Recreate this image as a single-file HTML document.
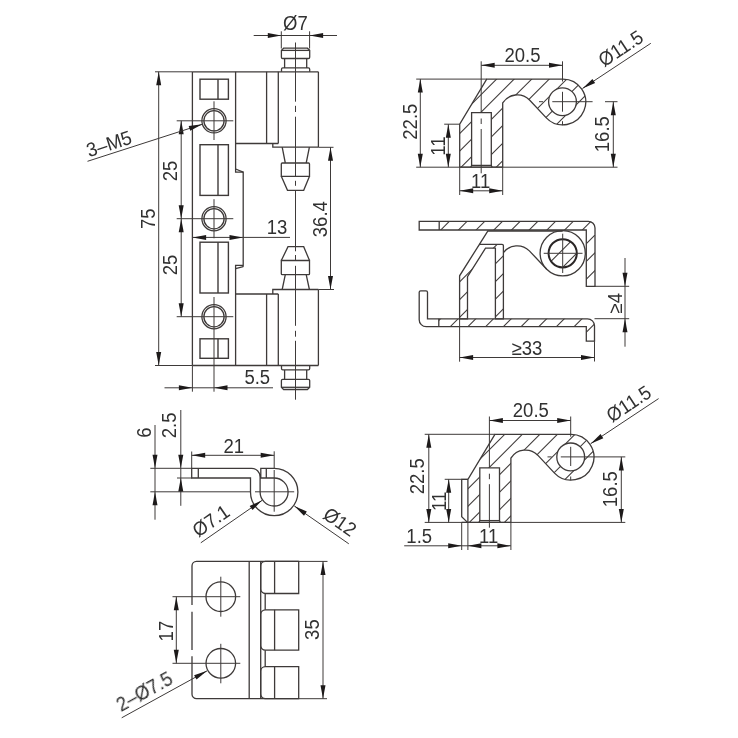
<!DOCTYPE html>
<html><head><meta charset="utf-8"><title>Hinge drawing</title>
<style>
html,body{margin:0;padding:0;background:#fff;}
body{width:738px;height:738px;overflow:hidden;}
svg{display:block;}
.o{stroke:#3e3a39;stroke-width:1.3;fill:none;}
.o2{stroke:#3e3a39;stroke-width:1.4;fill:none;}
.o3{stroke:#2a2626;stroke-width:2;fill:none;}
.t{stroke:#3e3a39;stroke-width:0.9;fill:none;}
.d{stroke:#3e3a39;stroke-width:1.0;fill:none;}
.c{stroke:#3e3a39;stroke-width:1.0;fill:none;}
.h{stroke:#3e3a39;stroke-width:1.05;fill:none;}
.a{fill:#1d1a1a;stroke:none;}
text{font-family:"Liberation Sans",sans-serif;fill:#35302f;}
</style></head><body>
<svg width="738" height="738" viewBox="0 0 738 738">
<rect x="0" y="0" width="738" height="738" fill="#fff"/>
<line class="d" x1="155" y1="71.8" x2="192.4" y2="71.8"/>
<line class="d" x1="155" y1="365.5" x2="192.4" y2="365.5"/>
<line class="o" x1="192.4" y1="71.8" x2="318.4" y2="71.8"/>
<line class="o" x1="192.4" y1="365.5" x2="318.4" y2="365.5"/>
<line class="o" x1="192.4" y1="71.8" x2="192.4" y2="365.5"/>
<path class="o" d="M235.6,71.8V172.2H243.2V266.7M243.2,265.4H235.6V365.5" />
<path class="o" d="M235.6,169L243.2,172.2" />
<path class="o" d="M243.2,266.7L235.6,268.6" />
<path class="o" d="M235.6,143.5H278.3" />
<line class="o" x1="266.6" y1="71.8" x2="266.6" y2="143.5"/>
<line class="o" x1="278.3" y1="71.8" x2="278.3" y2="143.5"/>
<path class="o" d="M272.8,143.5V147.2H318.4" />
<line class="o" x1="318.4" y1="71.8" x2="318.4" y2="147.2"/>
<path class="o" d="M235.6,294H278.3" />
<line class="o" x1="266.6" y1="294" x2="266.6" y2="365.5"/>
<line class="o" x1="278.3" y1="294" x2="278.3" y2="365.5"/>
<path class="o" d="M272.8,294V289.5H318.4" />
<line class="o" x1="318.4" y1="289.5" x2="318.4" y2="365.5"/>
<path class="o" d="M283.6,48.2H307.4L309.7,50.4V57.2Q309.7,58.5 308.4,58.5H282.7Q281.4,58.5 281.4,57.2V50.4Z" />
<line class="o" x1="281.4" y1="50.4" x2="309.7" y2="50.4"/>
<path class="o" d="M284.6,58.5V67.9M306.7,58.5V67.9" />
<path class="o" d="M281.5,71.7V69.2Q281.5,67.9 282.8,67.9H308.4Q309.7,67.9 309.7,69.2V71.7" />
<path class="o" d="M282.2,147.2L285.3,163M309.4,147.2L306.2,163" />
<path class="o" d="M282.3,163H308.5Q309.5,163 309.5,164V176.3H281.3V164Q281.3,163 282.3,163Z" />
<path class="o" d="M281.3,176.3L287.5,190.3H303.7L309.5,176.3" />
<path class="o" d="M281.3,260.5L288,246.7H303.7L309.5,260.5" />
<path class="o" d="M281.3,260.5H309.5V273.7Q309.5,274.7 308.5,274.7H282.3Q281.3,274.7 281.3,273.7Z" />
<path class="o" d="M285.3,274.7L282.2,289.5M306.2,274.7L309.4,289.5" />
<path class="o" d="M281.5,365.5V368.6Q281.5,369.9 282.8,369.9H308.4Q309.7,369.9 309.7,368.6V365.5" />
<path class="o" d="M284.6,369.9V379.3M306.7,369.9V379.3" />
<path class="o" d="M282.7,379.3H308.4Q309.7,379.3 309.7,380.6V387.3L307.4,389.5H283.6L281.4,387.3V380.6Q281.4,379.3 282.7,379.3Z" />
<line class="o" x1="281.4" y1="387.3" x2="309.7" y2="387.3"/>
<rect class="o2" x="200" y="79.2" width="28.4" height="20"/>
<line class="o2" x1="218" y1="79.2" x2="218" y2="99.2"/>
<rect class="o2" x="200" y="144.7" width="28.4" height="50.7"/>
<line class="o2" x1="218" y1="144.7" x2="218" y2="195.4"/>
<rect class="o2" x="200" y="242.2" width="28.4" height="50.8"/>
<line class="o2" x1="218" y1="242.2" x2="218" y2="293"/>
<rect class="o2" x="200" y="338.8" width="28.4" height="19.5"/>
<line class="o2" x1="218" y1="338.8" x2="218" y2="358.3"/>
<circle class="o" cx="214" cy="120.8" r="12.1"/>
<circle class="o" cx="214" cy="120.8" r="10.1"/>
<line class="c" x1="176.7" y1="120.8" x2="233.3" y2="120.8"/>
<circle class="o" cx="214" cy="218.7" r="12.1"/>
<circle class="o" cx="214" cy="218.7" r="10.1"/>
<line class="c" x1="176.7" y1="218.7" x2="233.3" y2="218.7"/>
<circle class="o" cx="214" cy="316.7" r="12.1"/>
<circle class="o" cx="214" cy="316.7" r="10.1"/>
<line class="c" x1="176.7" y1="316.7" x2="233.3" y2="316.7"/>
<line class="c" x1="214" y1="101.3" x2="214" y2="140"/>
<line class="c" x1="214" y1="199.2" x2="214" y2="238.3"/>
<line class="c" x1="214" y1="297" x2="214" y2="391.7"/>
<line class="c" x1="295.5" y1="42.5" x2="295.5" y2="101.7"/>
<line class="c" x1="295.5" y1="105.8" x2="295.5" y2="112"/>
<line class="c" x1="295.5" y1="116.7" x2="295.5" y2="176.5"/>
<line class="c" x1="295.5" y1="180.8" x2="295.5" y2="185.8"/>
<line class="c" x1="295.5" y1="190.3" x2="295.5" y2="251.3"/>
<line class="c" x1="295.5" y1="255" x2="295.5" y2="260.8"/>
<line class="c" x1="295.5" y1="265.8" x2="295.5" y2="325.8"/>
<line class="c" x1="295.5" y1="330.8" x2="295.5" y2="336.7"/>
<line class="c" x1="295.5" y1="340.8" x2="295.5" y2="399.7"/>
<line class="d" x1="253.7" y1="35.5" x2="337" y2="35.5"/>
<line class="d" x1="281.3" y1="31.3" x2="281.3" y2="48.5"/>
<line class="d" x1="309.6" y1="31.3" x2="309.6" y2="48.5"/>
<polygon class="a" points="281.3,35.5 267.8,38 267.8,33"/>
<polygon class="a" points="309.6,35.5 323.1,33 323.1,38"/>
<line class="d" x1="158.7" y1="71.8" x2="158.7" y2="365.5"/>
<polygon class="a" points="158.7,71.8 161.2,85.3 156.2,85.3"/>
<polygon class="a" points="158.7,365.5 156.2,352 161.2,352"/>
<line class="d" x1="181.2" y1="120.8" x2="181.2" y2="316.7"/>
<polygon class="a" points="181.2,120.8 183.7,134.3 178.7,134.3"/>
<polygon class="a" points="181.2,218.7 178.7,205.2 183.7,205.2"/>
<polygon class="a" points="181.2,218.7 183.7,232.2 178.7,232.2"/>
<polygon class="a" points="181.2,316.7 178.7,303.2 183.7,303.2"/>
<line class="d" x1="193" y1="237.4" x2="290" y2="237.4"/>
<polygon class="a" points="192.6,237.4 206.1,234.9 206.1,239.9"/>
<polygon class="a" points="243,237.4 229.5,239.9 229.5,234.9"/>
<line class="d" x1="318.4" y1="147.3" x2="333.5" y2="147.3"/>
<line class="d" x1="318.4" y1="289.5" x2="334" y2="289.5"/>
<line class="d" x1="330.5" y1="147.3" x2="330.5" y2="289.5"/>
<polygon class="a" points="330.5,147.3 333,160.8 328,160.8"/>
<polygon class="a" points="330.5,289.5 328,276 333,276"/>
<line class="d" x1="164.5" y1="387.8" x2="273" y2="387.8"/>
<line class="d" x1="192.4" y1="365.5" x2="192.4" y2="391.7"/>
<polygon class="a" points="192.4,387.8 178.9,390.3 178.9,385.3"/>
<polygon class="a" points="214,387.8 227.5,385.3 227.5,390.3"/>
<line class="d" x1="87.5" y1="161.3" x2="202.3" y2="124.3"/>
<polygon class="a" points="202.3,124.3 190.22,130.82 188.68,126.06"/>
<clipPath id="cp2"><path clip-rule="evenodd" d="M459.7,167.2V124.2L486.7,79.1H562.5A22.9,22.9 0 1 1 546.31,117.89L529.53,99.97A17.3,17.3 0 0 0 502.7,102.92V167.2Z M470.8,167.2L471.6,165.4V112.6H491.3V165.4L492.1,167.2Z M548.6,101.7a13.9,13.9 0 1 0 27.8,0a13.9,13.9 0 1 0 -27.8,0Z"/></clipPath>
<g clip-path="url(#cp2)">
<line class="h" x1="515.7" y1="60" x2="395.7" y2="180"/>
<line class="h" x1="533.25" y1="60" x2="413.25" y2="180"/>
<line class="h" x1="550.8" y1="60" x2="430.8" y2="180"/>
<line class="h" x1="568.35" y1="60" x2="448.35" y2="180"/>
<line class="h" x1="585.9" y1="60" x2="465.9" y2="180"/>
<line class="h" x1="603.45" y1="60" x2="483.45" y2="180"/>
<line class="h" x1="621" y1="60" x2="501" y2="180"/>
<line class="h" x1="638.55" y1="60" x2="518.55" y2="180"/>
</g>
<path class="o" d="M459.7,167.2V124.2L486.7,79.1H562.5A22.9,22.9 0 1 1 546.31,117.89L529.53,99.97A17.3,17.3 0 0 0 502.7,102.92V167.2" />
<path class="o" d="M470.8,167.2L471.6,165.4V112.6H491.3V165.4L492.1,167.2" />
<line class="o" x1="471.6" y1="165.4" x2="491.3" y2="165.4"/>
<circle class="o" cx="562.5" cy="101.7" r="13.9"/>
<line class="d" x1="416.2" y1="167.2" x2="617.5" y2="167.2"/>
<line class="o" x1="459.7" y1="167.2" x2="502.7" y2="167.2"/>
<line class="d" x1="416.2" y1="79.1" x2="486.7" y2="79.1"/>
<line class="c" x1="539" y1="101.7" x2="543" y2="101.7"/>
<line class="c" x1="552.3" y1="101.7" x2="592.6" y2="101.7"/>
<line class="c" x1="562.5" y1="91.8" x2="562.5" y2="111.7"/>
<line class="c" x1="562.5" y1="121.2" x2="562.5" y2="125.2"/>
<line class="c" x1="481.2" y1="118.5" x2="481.2" y2="124"/>
<line class="c" x1="481.2" y1="129" x2="481.2" y2="173.3"/>
<line class="d" x1="481.2" y1="61.3" x2="481.2" y2="112.6"/>
<line class="d" x1="562.5" y1="61.3" x2="562.5" y2="81.5"/>
<line class="d" x1="481.2" y1="65.3" x2="562.5" y2="65.3"/>
<polygon class="a" points="481.2,65.3 494.7,62.8 494.7,67.8"/>
<polygon class="a" points="562.5,65.3 549,67.8 549,62.8"/>
<line class="d" x1="420.3" y1="79.1" x2="420.3" y2="167.2"/>
<polygon class="a" points="420.3,79.1 422.8,92.6 417.8,92.6"/>
<polygon class="a" points="420.3,167.2 417.8,153.7 422.8,153.7"/>
<line class="d" x1="444.2" y1="124.2" x2="459.7" y2="124.2"/>
<line class="d" x1="448.3" y1="124.2" x2="448.3" y2="167.2"/>
<polygon class="a" points="448.3,124.2 450.8,137.7 445.8,137.7"/>
<polygon class="a" points="448.3,167.2 445.8,153.7 450.8,153.7"/>
<line class="d" x1="459.7" y1="167.2" x2="459.7" y2="195"/>
<line class="d" x1="502.7" y1="167.2" x2="502.7" y2="195"/>
<line class="d" x1="459.7" y1="190.8" x2="502.7" y2="190.8"/>
<polygon class="a" points="459.7,190.8 473.2,188.3 473.2,193.3"/>
<polygon class="a" points="502.7,190.8 489.2,193.3 489.2,188.3"/>
<line class="d" x1="605" y1="101.7" x2="617.5" y2="101.7"/>
<line class="d" x1="613.3" y1="101.7" x2="613.3" y2="167.2"/>
<polygon class="a" points="613.3,101.7 615.8,115.2 610.8,115.2"/>
<polygon class="a" points="613.3,167.2 610.8,153.7 615.8,153.7"/>
<line class="d" x1="650.8" y1="43.3" x2="582.52" y2="88.46"/>
<polygon class="a" points="582.52,88.46 592.4,78.93 595.16,83.1"/>
<clipPath id="cp3"><path d="M439.2,221.3H588.3A6.7,6.7 0 0 1 595,228V286.3H586.3V230H439.2Z M438.8,318.8H587.5A7,7 0 0 1 594.5,325.8V341.2H586.3V326.7H438.8Z M479.4,244.3H502A1.4,1.4 0 0 1 503.4,245.7V318.8H495.4V248.2H485.5L467.5,276.7V318.8H459.6V275.8Z M548.6,253.3a14.1,14.1 0 1 0 28.2,0a14.1,14.1 0 1 0 -28.2,0Z"/></clipPath>
<g clip-path="url(#cp3)">
<line class="h" x1="460.7" y1="210" x2="320.7" y2="350"/>
<line class="h" x1="478.4" y1="210" x2="338.4" y2="350"/>
<line class="h" x1="496.1" y1="210" x2="356.1" y2="350"/>
<line class="h" x1="513.8" y1="210" x2="373.8" y2="350"/>
<line class="h" x1="531.5" y1="210" x2="391.5" y2="350"/>
<line class="h" x1="549.2" y1="210" x2="409.2" y2="350"/>
<line class="h" x1="566.9" y1="210" x2="426.9" y2="350"/>
<line class="h" x1="584.6" y1="210" x2="444.6" y2="350"/>
<line class="h" x1="602.3" y1="210" x2="462.3" y2="350"/>
<line class="h" x1="620" y1="210" x2="480" y2="350"/>
<line class="h" x1="637.7" y1="210" x2="497.7" y2="350"/>
<line class="h" x1="655.4" y1="210" x2="515.4" y2="350"/>
<line class="h" x1="673.1" y1="210" x2="533.1" y2="350"/>
<line class="h" x1="690.8" y1="210" x2="550.8" y2="350"/>
<line class="h" x1="708.5" y1="210" x2="568.5" y2="350"/>
<line class="h" x1="726.2" y1="210" x2="586.2" y2="350"/>
</g>
<path class="o" d="M419.2,221.3H588.3A6.7,6.7 0 0 1 595,228V286.3H586.3V230H419.2Z" />
<line class="o" x1="439.2" y1="221.3" x2="439.2" y2="230"/>
<path class="o" d="M420.7,290.8H426A1.5,1.5 0 0 1 427.5,292.3V318.8H587.5A7,7 0 0 1 594.5,325.8V341.2H586.3V326.7H426.2A7,7 0 0 1 419.2,319.7V292.3A1.5,1.5 0 0 1 420.7,290.8Z" />
<line class="o" x1="438.8" y1="318.8" x2="438.8" y2="326.7"/>
<path class="o" d="M479.4,244.3H502A1.4,1.4 0 0 1 503.4,245.7V318.8H495.4V248.2H485.5L467.5,276.7V318.8H459.6V275.8Z" />
<path class="o" d="M562.7,231H487.9L479.4,244.3" />
<circle class="o" cx="562.7" cy="253.3" r="22.6"/>
<circle class="o3" cx="562.7" cy="253.3" r="14.1"/>
<line class="c" x1="543.7" y1="253.3" x2="582.5" y2="253.3"/>
<line class="c" x1="562.7" y1="233.7" x2="562.7" y2="273"/>
<path class="o" d="M503.4,252.73A17.2,17.2 0 0 1 529.36,250.84L546.72,269.28" />
<line class="d" x1="594.5" y1="286.3" x2="629.2" y2="286.3"/>
<line class="d" x1="594.5" y1="318.7" x2="629.2" y2="318.7"/>
<line class="d" x1="625" y1="258" x2="625" y2="346.7"/>
<polygon class="a" points="625,286.3 622.5,272.8 627.5,272.8"/>
<polygon class="a" points="625,318.7 627.5,332.2 622.5,332.2"/>
<line class="d" x1="459.6" y1="318.8" x2="459.6" y2="361.7"/>
<line class="d" x1="594.5" y1="341.2" x2="594.5" y2="361.5"/>
<line class="d" x1="459.6" y1="357.5" x2="594.5" y2="357.5"/>
<polygon class="a" points="459.6,357.5 473.1,355 473.1,360"/>
<polygon class="a" points="594.5,357.5 581,360 581,355"/>
<clipPath id="cp4"><path clip-rule="evenodd" d="M467.9,522.4V479.4L494.9,434.3H570.7A22.9,22.9 0 1 1 554.51,473.09L537.73,455.17A17.3,17.3 0 0 0 510.9,458.12V522.4Z M479,522.4L479.8,520.6V467.8H499.5V520.6L500.3,522.4Z M556.8,456.9a13.9,13.9 0 1 0 27.8,0a13.9,13.9 0 1 0 -27.8,0Z"/></clipPath>
<g clip-path="url(#cp4)">
<line class="h" x1="523.9" y1="415.2" x2="403.9" y2="535.2"/>
<line class="h" x1="541.45" y1="415.2" x2="421.45" y2="535.2"/>
<line class="h" x1="559" y1="415.2" x2="439" y2="535.2"/>
<line class="h" x1="576.55" y1="415.2" x2="456.55" y2="535.2"/>
<line class="h" x1="594.1" y1="415.2" x2="474.1" y2="535.2"/>
<line class="h" x1="611.65" y1="415.2" x2="491.65" y2="535.2"/>
<line class="h" x1="629.2" y1="415.2" x2="509.2" y2="535.2"/>
<line class="h" x1="646.75" y1="415.2" x2="526.75" y2="535.2"/>
</g>
<path class="o" d="M467.9,522.4V479.4L494.9,434.3H570.7A22.9,22.9 0 1 1 554.51,473.09L537.73,455.17A17.3,17.3 0 0 0 510.9,458.12V522.4" />
<path class="o" d="M479,522.4L479.8,520.6V467.8H499.5V520.6L500.3,522.4" />
<line class="o" x1="479.8" y1="520.6" x2="499.5" y2="520.6"/>
<circle class="o" cx="570.7" cy="456.9" r="13.9"/>
<line class="d" x1="424.7" y1="522.4" x2="625.3" y2="522.4"/>
<line class="o" x1="461.7" y1="522.4" x2="510.9" y2="522.4"/>
<line class="d" x1="424.7" y1="434.3" x2="494.9" y2="434.3"/>
<path class="o" d="M467.9,479.3H461.7V516.7L467.5,522.4" />
<line class="c" x1="547.5" y1="456.9" x2="551.7" y2="456.9"/>
<line class="c" x1="560.8" y1="456.9" x2="625.3" y2="456.9"/>
<line class="c" x1="570.7" y1="446.8" x2="570.7" y2="466"/>
<line class="c" x1="570.7" y1="476.5" x2="570.7" y2="480.2"/>
<line class="c" x1="489.4" y1="473.7" x2="489.4" y2="479.2"/>
<line class="c" x1="489.4" y1="484.2" x2="489.4" y2="527.7"/>
<line class="d" x1="489.4" y1="416.5" x2="489.4" y2="467.8"/>
<line class="d" x1="570.7" y1="416.5" x2="570.7" y2="436.7"/>
<line class="d" x1="489.4" y1="420.5" x2="570.7" y2="420.5"/>
<polygon class="a" points="489.4,420.5 502.9,418 502.9,423"/>
<polygon class="a" points="570.7,420.5 557.2,423 557.2,418"/>
<line class="d" x1="428.8" y1="434.3" x2="428.8" y2="522.4"/>
<polygon class="a" points="428.8,434.3 431.3,447.8 426.3,447.8"/>
<polygon class="a" points="428.8,522.4 426.3,508.9 431.3,508.9"/>
<line class="d" x1="444.7" y1="479.3" x2="467.9" y2="479.3"/>
<line class="d" x1="448.7" y1="479.3" x2="448.7" y2="522.4"/>
<polygon class="a" points="448.7,479.3 451.2,492.8 446.2,492.8"/>
<polygon class="a" points="448.7,522.4 446.2,508.9 451.2,508.9"/>
<line class="d" x1="461.7" y1="522.4" x2="461.7" y2="550"/>
<line class="d" x1="467.9" y1="522.4" x2="467.9" y2="550"/>
<line class="d" x1="510.9" y1="522.4" x2="510.9" y2="550"/>
<line class="d" x1="404.2" y1="545.8" x2="510.9" y2="545.8"/>
<polygon class="a" points="461.7,545.8 448.2,548.3 448.2,543.3"/>
<polygon class="a" points="467.9,545.8 481.4,543.3 481.4,548.3"/>
<polygon class="a" points="510.9,545.8 497.4,548.3 497.4,543.3"/>
<line class="d" x1="621.3" y1="456.9" x2="621.3" y2="522.4"/>
<polygon class="a" points="621.3,456.9 623.8,470.4 618.8,470.4"/>
<polygon class="a" points="621.3,522.4 618.8,508.9 623.8,508.9"/>
<line class="d" x1="658.6" y1="398.6" x2="590.7" y2="443.63"/>
<polygon class="a" points="590.7,443.63 600.57,434.09 603.33,438.26"/>
<path class="o" d="M191.7,468.3H251.5A8.6,8.6 0 0 1 260.1,476.9V492.0A14.0,14.0 0 1 0 274.2,478.0H260.8V468.3H274.2A23.7,23.7 0 1 1 250.5,492.0V478.0H191.7Z" />
<line class="o" x1="198.3" y1="468.3" x2="198.3" y2="478"/>
<line class="o" x1="266.3" y1="468.3" x2="266.3" y2="478"/>
<line class="d" x1="150.3" y1="491.8" x2="250.5" y2="491.8"/>
<line class="c" x1="255" y1="491.8" x2="294.2" y2="491.8"/>
<line class="c" x1="274.2" y1="470" x2="274.2" y2="511.7"/>
<line class="d" x1="150.3" y1="468.3" x2="191.7" y2="468.3"/>
<line class="d" x1="155" y1="425" x2="155" y2="519.7"/>
<polygon class="a" points="155,468.3 152.5,454.8 157.5,454.8"/>
<polygon class="a" points="155,491.8 157.5,505.3 152.5,505.3"/>
<line class="d" x1="177" y1="478" x2="191.7" y2="478"/>
<line class="d" x1="180.8" y1="410" x2="180.8" y2="505.8"/>
<polygon class="a" points="180.8,468.3 178.3,454.8 183.3,454.8"/>
<polygon class="a" points="180.8,478 183.3,491.5 178.3,491.5"/>
<line class="d" x1="191.7" y1="451.5" x2="191.7" y2="468.3"/>
<line class="d" x1="274.2" y1="451.3" x2="274.2" y2="468.3"/>
<line class="d" x1="191.7" y1="455.3" x2="274.2" y2="455.3"/>
<polygon class="a" points="191.7,455.3 205.2,452.8 205.2,457.8"/>
<polygon class="a" points="274.2,455.3 260.7,457.8 260.7,452.8"/>
<line class="d" x1="200.8" y1="542.8" x2="262.19" y2="500.31"/>
<polygon class="a" points="262.19,500.31 252.52,510.05 249.67,505.94"/>
<line class="d" x1="348.8" y1="543.8" x2="294.32" y2="505.97"/>
<polygon class="a" points="294.32,505.97 306.84,511.62 303.99,515.73"/>
<path class="o" d="M298.7,561.4H196.5A4.5,4.5 0 0 0 192,565.9V605M192,611.7V650M192,656.3V694.2A4.5,4.5 0 0 0 196.5,698.7H298.7" />
<line class="o" x1="249.2" y1="561.4" x2="249.2" y2="698.7"/>
<line class="d" x1="298.7" y1="561.4" x2="327.5" y2="561.4"/>
<line class="d" x1="298.7" y1="698.7" x2="327" y2="698.7"/>
<path class="o" d="M298.7,561.4H265.3A4.6,4.6 0 0 0 260.7,566V588.9A4.6,4.6 0 0 0 265.3,593.5H298.7Z" />
<line class="o" x1="274.6" y1="561.4" x2="274.6" y2="593.5"/>
<path class="o" d="M298.7,609.8H265.3A4.6,4.6 0 0 0 260.7,614.4V645.6A4.6,4.6 0 0 0 265.3,650.2H298.7Z" />
<line class="o" x1="274.6" y1="609.8" x2="274.6" y2="650.2"/>
<path class="o" d="M298.7,666.6H265.3A4.6,4.6 0 0 0 260.7,671.2V694.1A4.6,4.6 0 0 0 265.3,698.7H298.7Z" />
<line class="o" x1="274.6" y1="666.6" x2="274.6" y2="698.7"/>
<line class="o" x1="260.7" y1="561.4" x2="260.7" y2="698.7"/>
<line class="o" x1="265.2" y1="593.5" x2="265.2" y2="609.8"/>
<line class="o" x1="265.2" y1="650.2" x2="265.2" y2="666.6"/>
<circle class="o" cx="220.8" cy="596.7" r="14.8"/>
<line class="c" x1="172.5" y1="596.7" x2="240.3" y2="596.7"/>
<circle class="o" cx="220.8" cy="663.3" r="14.8"/>
<line class="c" x1="172.5" y1="663.3" x2="240.3" y2="663.3"/>
<line class="c" x1="220.8" y1="576.7" x2="220.8" y2="616.7"/>
<line class="c" x1="220.8" y1="643.8" x2="220.8" y2="683.3"/>
<line class="d" x1="176.3" y1="596.7" x2="176.3" y2="663.3"/>
<polygon class="a" points="176.3,596.7 178.8,610.2 173.8,610.2"/>
<polygon class="a" points="176.3,663.3 173.8,649.8 178.8,649.8"/>
<line class="d" x1="323" y1="561.4" x2="323" y2="698.7"/>
<polygon class="a" points="323,561.4 325.5,574.9 320.5,574.9"/>
<polygon class="a" points="323,698.7 320.5,685.2 325.5,685.2"/>
<line class="d" x1="121.7" y1="717.8" x2="207.13" y2="670.82"/>
<polygon class="a" points="207.13,670.82 196.51,679.51 194.1,675.13"/>
<g style="filter:grayscale(1)">
<text transform="translate(295.4,23.3) rotate(0) scale(0.945,1)" text-anchor="middle" y="7" font-size="19.6">Ø7</text>
<text transform="translate(148.3,218.7) rotate(-90) scale(0.945,1)" text-anchor="middle" y="7" font-size="19.6">75</text>
<text transform="translate(170.4,171) rotate(-90) scale(0.945,1)" text-anchor="middle" y="7" font-size="19.6">25</text>
<text transform="translate(170.4,265) rotate(-90) scale(0.945,1)" text-anchor="middle" y="7" font-size="19.6">25</text>
<text transform="translate(277,226.8) rotate(0) scale(0.945,1)" text-anchor="middle" y="7" font-size="19.6">13</text>
<text transform="translate(319.6,219.2) rotate(-90) scale(0.945,1)" text-anchor="middle" y="7" font-size="19.6">36.4</text>
<text transform="translate(257.3,377.4) rotate(0) scale(0.945,1)" text-anchor="middle" y="7" font-size="19.6">5.5</text>
<text transform="translate(109,143.6) rotate(-17.86) scale(0.945,1)" text-anchor="middle" y="7" font-size="19.6">3–M5</text>
<text transform="translate(522.5,54.9) rotate(0) scale(0.945,1)" text-anchor="middle" y="7" font-size="19.6">20.5</text>
<text transform="translate(409.6,121.7) rotate(-90) scale(0.945,1)" text-anchor="middle" y="7" font-size="19.6">22.5</text>
<text transform="translate(438.3,146.1) rotate(-90) scale(0.945,1)" text-anchor="middle" y="7" font-size="19.6">11</text>
<text transform="translate(480.6,181.3) rotate(0) scale(0.945,1)" text-anchor="middle" y="7" font-size="19.6">11</text>
<text transform="translate(601.9,134.2) rotate(-90) scale(0.945,1)" text-anchor="middle" y="7" font-size="19.6">16.5</text>
<text transform="translate(620.5,48.2) rotate(326.52) scale(0.945,1)" text-anchor="middle" y="7" font-size="19.6">Ø11.5</text>
<text transform="translate(615.2,303.3) rotate(-90) scale(0.945,1)" text-anchor="middle" y="7" font-size="19.6">≥4</text>
<text transform="translate(527,347.5) rotate(0) scale(0.945,1)" text-anchor="middle" y="7" font-size="19.6">≥33</text>
<text transform="translate(530.8,409.9) rotate(0) scale(0.945,1)" text-anchor="middle" y="7" font-size="19.6">20.5</text>
<text transform="translate(417.2,476.3) rotate(-90) scale(0.945,1)" text-anchor="middle" y="7" font-size="19.6">22.5</text>
<text transform="translate(438.5,501.3) rotate(-90) scale(0.945,1)" text-anchor="middle" y="7" font-size="19.6">11</text>
<text transform="translate(419.2,535.7) rotate(0) scale(0.945,1)" text-anchor="middle" y="7" font-size="19.6">1.5</text>
<text transform="translate(488.6,536.1) rotate(0) scale(0.945,1)" text-anchor="middle" y="7" font-size="19.6">11</text>
<text transform="translate(610,489.2) rotate(-90) scale(0.945,1)" text-anchor="middle" y="7" font-size="19.6">16.5</text>
<text transform="translate(628.6,403.5) rotate(326.45) scale(0.945,1)" text-anchor="middle" y="7" font-size="19.6">Ø11.5</text>
<text transform="translate(144,432.5) rotate(-90) scale(0.945,1)" text-anchor="middle" y="7" font-size="19.6">6</text>
<text transform="translate(169.2,425.4) rotate(-90) scale(0.945,1)" text-anchor="middle" y="7" font-size="19.6">2.5</text>
<text transform="translate(233.8,445.6) rotate(0) scale(0.945,1)" text-anchor="middle" y="7" font-size="19.6">21</text>
<text transform="translate(210.8,520.5) rotate(-34.69) scale(0.945,1)" text-anchor="middle" y="7" font-size="19.6">Ø7.1</text>
<text transform="translate(340,521.6) rotate(34.77) scale(0.945,1)" text-anchor="middle" y="7" font-size="19.6">Ø12</text>
<text transform="translate(165.9,631.1) rotate(-90) scale(0.945,1)" text-anchor="middle" y="7" font-size="19.6">17</text>
<text transform="translate(312.1,629.6) rotate(-90) scale(0.945,1)" text-anchor="middle" y="7" font-size="19.6">35</text>
<text transform="translate(144.3,691.3) rotate(-28.81) scale(0.945,1)" text-anchor="middle" y="7" font-size="19.6">2–Ø7.5</text>
</g>
</svg>
</body></html>
